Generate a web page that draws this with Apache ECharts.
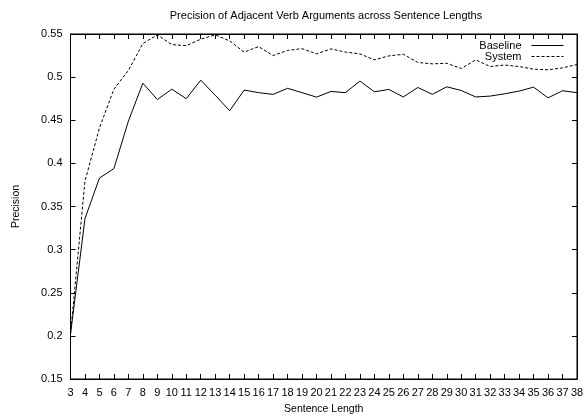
<!DOCTYPE html>
<html>
<head>
<meta charset="utf-8">
<script src="https://cdn.jsdelivr.net/npm/echarts@6/dist/echarts.min.js"></script>
<style>html,body{margin:0;padding:0;background:#fff}#c{width:586px;height:416px}</style>
</head>
<body>
<div id="c"></div>
<script>
var lengths = [3,4,5,6,7,8,9,10,11,12,13,14,15,16,17,18,19,20,21,22,23,24,25,26,27,28,29,30,31,32,33,34,35,36,37,38];
var baseline = [0.202,0.336,0.383,0.394,0.449,0.493,0.474,0.486,0.475,0.4965,0.479,0.461,0.485,0.482,0.480,0.487,0.482,0.4768,0.4834,0.482,0.4954,0.483,0.4857,0.477,0.488,0.480,0.4888,0.4845,0.477,0.478,0.4807,0.4838,0.4884,0.476,0.4842,0.482];
var system = [0.202,0.3795,0.441,0.486,0.5077,0.539,0.549,0.5377,0.5365,0.544,0.549,0.542,0.529,0.5354,0.525,0.531,0.533,0.527,0.5327,0.529,0.527,0.520,0.5246,0.5265,0.517,0.5154,0.516,0.510,0.520,0.5123,0.514,0.5123,0.5092,0.5085,0.5107,0.5146];
var yMin = 0.15, yMax = 0.55, yStep = 0.05;
var xMin = 3, xMax = 38, xStep = 1;

function pairs(xs, ys){ return xs.map(function(x,i){ return [x, ys[i]]; }); }

var font = 'Liberation Sans, Arial, Helvetica, sans-serif';
var chart = echarts.init(document.getElementById('c'), null, {renderer:'canvas'});
var tickStyle = {show:true, inside:true, length:5, lineStyle:{color:'#000', width:1}};
chart.setOption({
  animation:false,
  backgroundColor:'#fff',
  title:{text:'Precision of Adjacent Verb Arguments across Sentence Lengths', left:321, textAlign:'center', top:5,
    textStyle:{fontFamily:font, fontSize:11, fontWeight:'normal', color:'#000'}},
  legend:{
    right:22, top:40, orient:'vertical', align:'right', padding:0,
    itemWidth:32, itemHeight:8, itemGap:0,
    itemStyle:{color:'rgba(0,0,0,0)', borderColor:'rgba(0,0,0,0)', borderWidth:0},
    lineStyle:{width:1},
    textStyle:{fontFamily:font, fontSize:11, lineHeight:11, color:'#000', padding:[0,5,0,0]},
    data:['Baseline','System']
  },
  grid:{left:70.5, right:9, top:34, bottom:37, outerBoundsMode:'none', containLabel:false, show:true, borderColor:'#000', borderWidth:1},
  xAxis:[{
    type:'value', min:xMin, max:xMax, interval:xStep, position:'bottom',
    name:'Sentence Length', nameLocation:'middle', nameGap:25,
    nameTextStyle:{fontFamily:font, fontSize:10.5, color:'#000'},
    axisLine:{show:true, lineStyle:{color:'#000', width:1}},
    axisTick:tickStyle,
    axisLabel:{fontFamily:font, fontSize:11, color:'#000', margin:8},
    splitLine:{show:false}
  },{
    type:'value', min:xMin, max:xMax, interval:xStep, position:'top',
    axisLine:{show:true, lineStyle:{color:'#000'}}, axisTick:tickStyle, axisLabel:{show:false}, splitLine:{show:false}
  }],
  yAxis:[{
    type:'value', min:yMin, max:yMax, interval:yStep, position:'left',
    name:'Precision', nameLocation:'middle', nameGap:49, nameRotate:90,
    nameTextStyle:{fontFamily:font, fontSize:10.5, color:'#000'},
    axisLine:{show:true, lineStyle:{color:'#000', width:1}},
    axisTick:tickStyle,
    axisLabel:{fontFamily:font, fontSize:11, color:'#000', margin:8},
    splitLine:{show:false}
  },{
    type:'value', min:yMin, max:yMax, interval:yStep, position:'right',
    axisLine:{show:true, lineStyle:{color:'#000'}}, axisTick:tickStyle, axisLabel:{show:false}, splitLine:{show:false}
  }],
  series:[{
    name:'Baseline', type:'line', data:pairs(lengths, baseline), symbol:'none',
    lineStyle:{color:'#000', width:1, type:'solid'}, itemStyle:{color:'#000'}
  },{
    name:'System', type:'line', data:pairs(lengths, system), symbol:'none',
    lineStyle:{color:'#000', width:1, type:[3,2]}, itemStyle:{color:'#000'}
  }]
});
</script>
</body>
</html>
